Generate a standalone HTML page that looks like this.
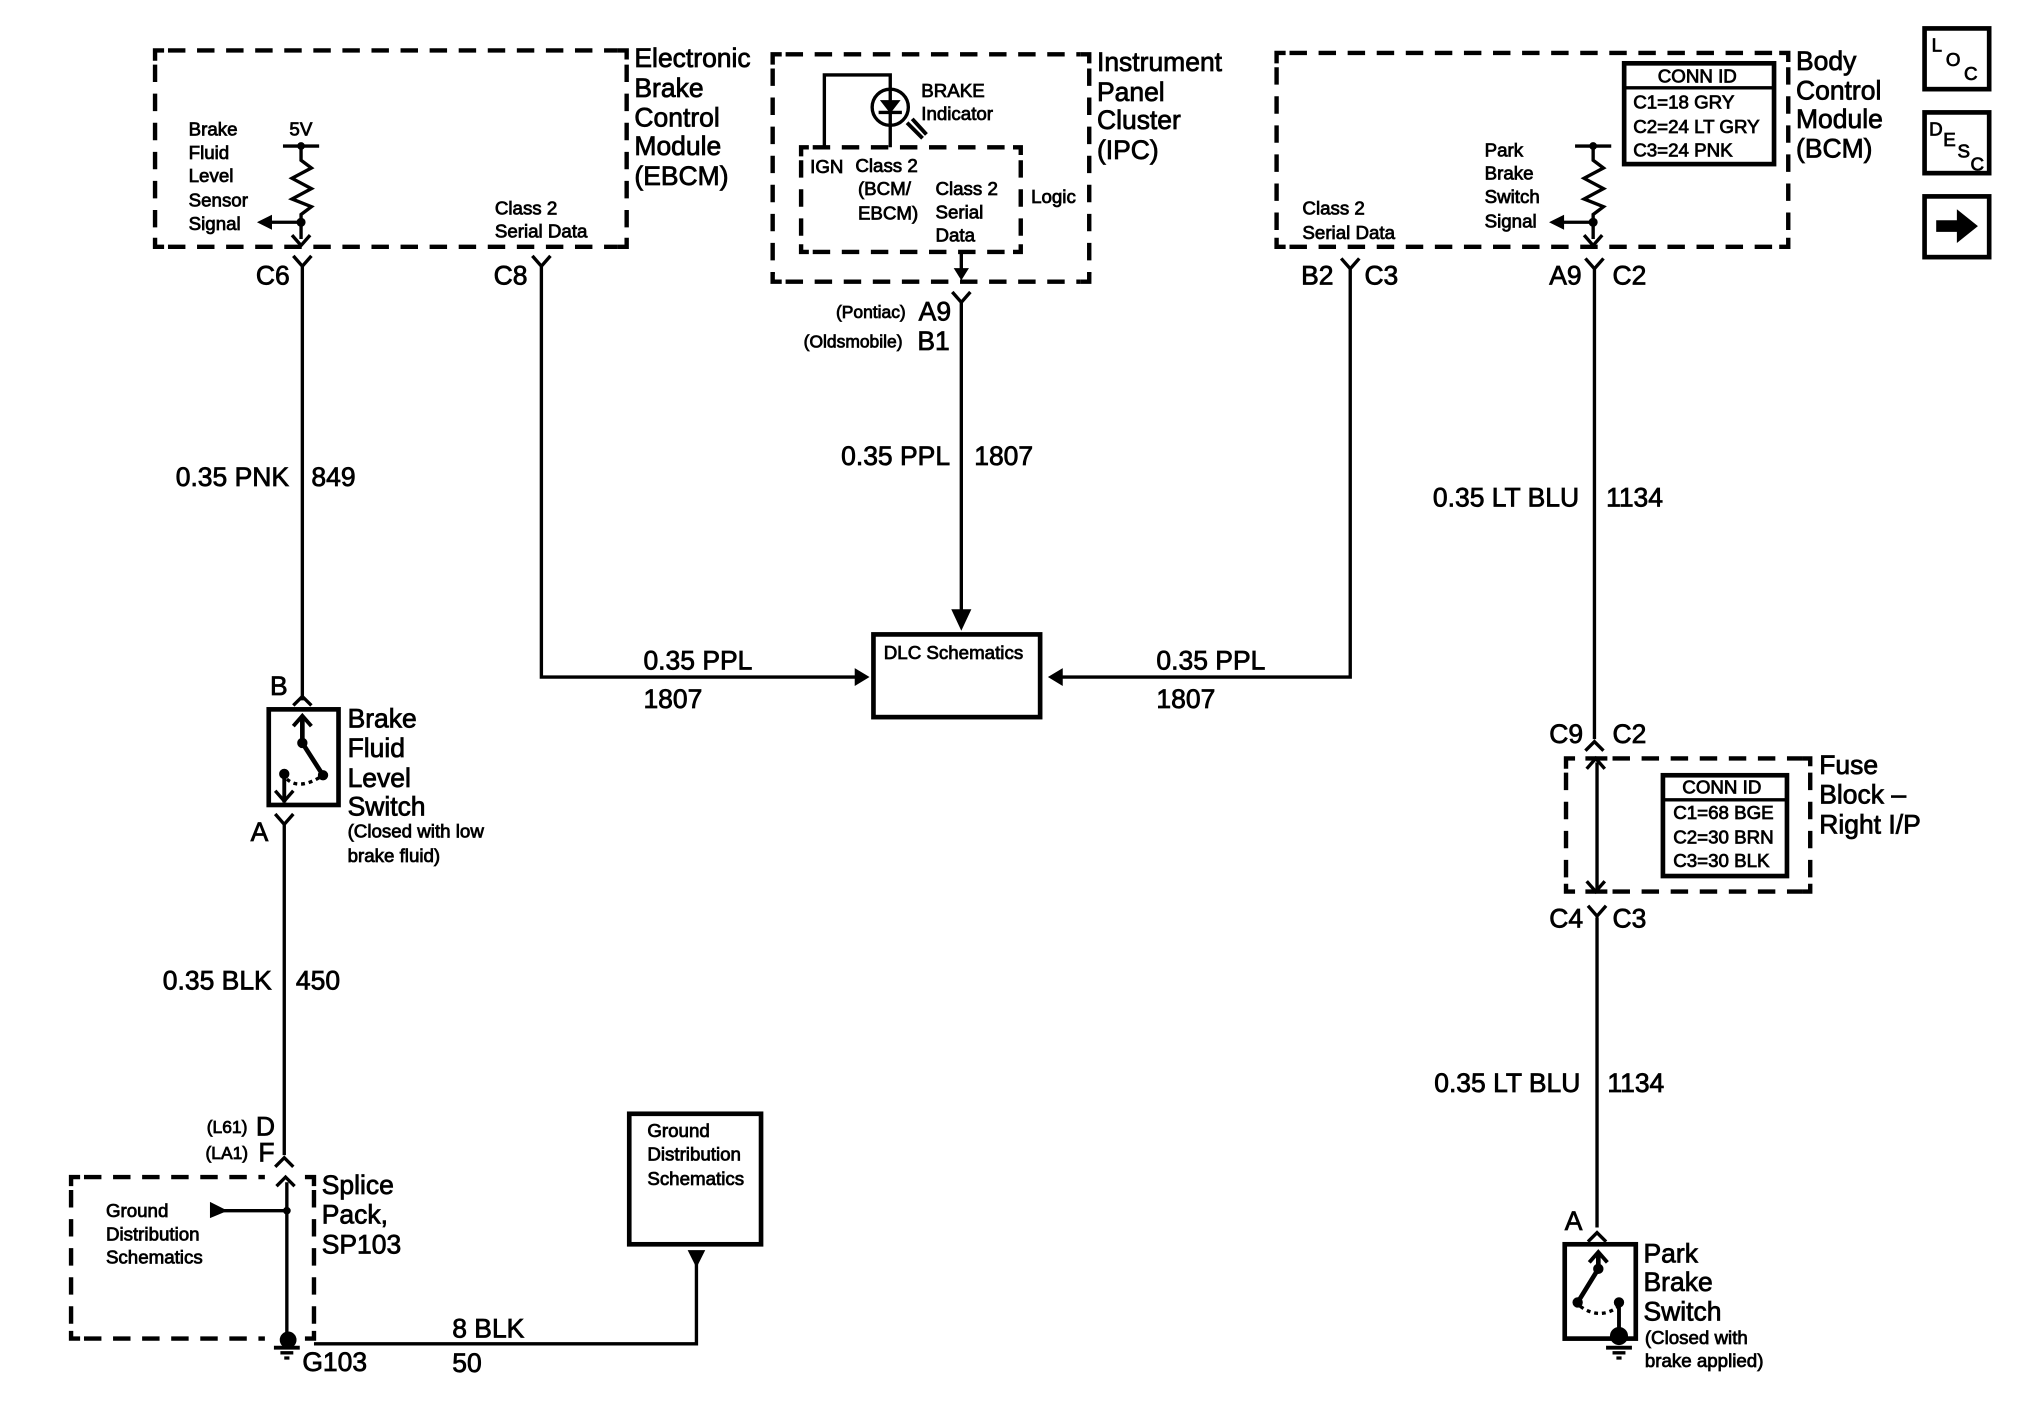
<!DOCTYPE html>
<html><head><meta charset="utf-8"><style>
html,body{margin:0;padding:0;background:#fff}
svg{display:block}
text{font-family:"Liberation Sans",sans-serif;fill:#000;stroke:#000;stroke-width:.6}
.b{font-size:20.5px}.s{font-size:14.5px}.x{font-size:13.5px}
.w{fill:none;stroke:#000;stroke-width:2.6}
.t{fill:none;stroke:#000;stroke-width:3.6}
.d{fill:none;stroke:#000;stroke-width:3.4;stroke-dasharray:13.5 9}
.c{fill:none;stroke:#000;stroke-width:3.4}
.f{fill:#000;stroke:#000;stroke-width:1}
</style></head><body>
<svg width="2026" height="1408" viewBox="0 0 1568 1089.7" xmlns="http://www.w3.org/2000/svg">
<rect width="1568" height="1090" fill="#fff"/>

<!-- dashed boxes -->
<path class="d" d="M130 39H478M130 191H478M120 50V184M485 50V184"/>
<path class="c" d="M120 47V39H127M478 39H485V46M120 184V191H127M478 191H485V184"/>
<path class="d" d="M608 42H836M608 218H836M598 53V212M843 53V212"/>
<path class="c" d="M598 50V42H605M836 42H843V49M598 211V218H605M836 218H843V211"/>
<path class="d" d="M629 114H784M629 195H784M620 124V188M790 124V188"/>
<path class="c" d="M620 121V114H626M784 114H790V120M620 189V195H626M784 195H790V189"/>
<path class="d" d="M998 41H1377M998 191H1377M988 52V184M1384 52V184"/>
<path class="c" d="M988 49V41H995M1377 41H1384V48M988 184V191H995M1377 191H1384V184"/>
<path class="d" d="M1248 587H1395M1248 690H1395M1212 598V684M1401 598V684"/>
<path class="c" d="M1212 595V587H1219M1395 587H1401V593M1212 684V690H1219M1395 690H1401V684M1227 587H1244M1227 690H1244"/>
<path class="d" d="M65 911H205M65 1036H205M55 921V1030M243 921V1030"/>
<path class="c" d="M55 918V911H62M236 911H243V918M55 1030V1036H62M236 1036H243V1030"/>

<!-- solid boxes -->
<g>
<rect class="t" x="1257" y="49" width="116" height="78"/><path class="w" d="M1257 68H1373"/>
<rect class="t" x="1287" y="600" width="96" height="78"/><path class="w" d="M1287 619H1383"/>
<rect class="t" x="1489.500" y="22" width="50" height="47"/>
<rect class="t" x="1489.500" y="87" width="50" height="47"/>
<rect class="t" x="1489.500" y="152" width="50" height="47"/>
<rect class="t" x="676" y="491" width="129" height="64"/>
<rect class="t" x="487" y="862" width="102" height="101"/>
<rect class="t" x="208" y="549" width="54" height="74"/>
<rect class="t" x="1211" y="963" width="55" height="73"/>
</g>
<path class="f" d="M1499 171H1515V163L1530 175L1515 187V179H1499Z"/>

<!-- wires -->
<g class="w">
<path d="M234 204V542M227 198L234 206L241 198"/>
<path d="M419 204V524H662M412 198L419 206L426 198"/>
<path d="M744 195V212M744 232V472M737 226L744 234L751 226"/>
<path d="M1045 206V524H822M1038 200L1045 208L1052 200"/>
<path d="M1234 206V572M1227 200L1234 208L1241 200M1227 581L1234 574L1241 581"/>
<path d="M1236 590V690M1236 710V950M1229 701L1236 709L1243 701"/>
<path d="M220 636V894M213 630L220 638L227 630M213 903L220 896L227 903"/>
<path d="M222 915V1036M172 937H222"/>
<path d="M243 1040H539V978"/>
<path d="M227 546L234 539L241 546M1229 961L1236 954L1243 961"/>
<!-- EBCM resistor -->
<path d="M219 113H247M233 113V124L241 130L226 138L241 146L226 154L241 160L233 166V185M206 172H233"/>
<path d="M226 182L233 190L240 182"/>
<!-- BCM resistor -->
<path d="M1219 113H1247M1233 113V124L1241 130L1226 138L1241 146L1226 154L1241 160L1233 166V185M1208 172H1233"/>
<path d="M1226 182L1233 190L1240 182"/>
<!-- lamp -->
<path d="M638 114V58H689V114"/>
<circle cx="689" cy="83" r="14"/>
<path d="M680 87H698"/>
<path stroke-width="3" d="M702 95L714 107M706 92L717 104"/>
<!-- inner arrows -->
<path d="M1228 595L1235 587L1242 595M1228 682L1235 690L1242 682"/>
<path d="M214 918L221 911L228 918"/>
<!-- switch 1 -->
<path stroke-width="3.600" d="M234 555V575L250 600"/>
<path stroke-width="3" d="M227 562L234 554L241 562"/>
<path stroke-width="3" d="M220 599V621"/>
<path d="M213 612L220 620L227 612"/>
<path stroke-dasharray="3 3" d="M222 603Q232 612 250 600"/>
<!-- switch 2 -->
<path stroke-width="3.600" d="M1237 971V982L1221 1008"/>
<path stroke-width="3" d="M1230 977L1237 969L1244 977"/>
<path stroke-width="3" d="M1253 1008V1035"/>
<path stroke-dasharray="3 3" d="M1223 1011Q1238 1022 1253 1011"/>
<!-- grounds -->
<path stroke-width="3" d="M1243 1043H1263"/><path d="M1248 1047H1258M1251 1051H1255"/>
<path stroke-width="3" d="M212 1043H232"/><path d="M217 1047H227M220 1051H224"/>
</g>
<g class="f">
<path d="M737 472H751L744 487Z"/>
<path d="M739 208H749L744 216Z"/>
<path d="M662 518V530L672 524Z"/>
<path d="M822 518V530L812 524Z"/>
<path d="M533 968H545L539 980Z"/>
<path d="M163 931V942L175 937Z"/>
<path d="M200 172L210 167V177Z"/>
<path d="M1200 172L1210 167V177Z"/>
<path d="M682 78H696L689 87Z"/>
<circle cx="233" cy="113" r="2.500"/><circle cx="233" cy="172" r="3"/>
<circle cx="1233" cy="113" r="2.500"/><circle cx="1233" cy="172" r="3"/>
<circle cx="222" cy="937" r="2.500"/><circle cx="223" cy="1037" r="6"/>
<circle cx="234" cy="575" r="3.500"/><circle cx="250" cy="600" r="3.500"/><circle cx="220" cy="599" r="3.500"/>
<circle cx="1237" cy="982" r="3.500"/><circle cx="1221" cy="1008" r="3.500"/><circle cx="1253" cy="1008" r="3.500"/><circle cx="1253" cy="1034" r="6.500"/>
</g>

<!-- large labels -->
<g class="b">
<text x="491" y="52">Electronic</text><text x="491" y="75">Brake</text><text x="491" y="98">Control</text><text x="491" y="120">Module</text><text x="491" y="143">(EBCM)</text>
<text x="849" y="55">Instrument</text><text x="849" y="78">Panel</text><text x="849" y="100">Cluster</text><text x="849" y="123">(IPC)</text>
<text x="1390" y="54">Body</text><text x="1390" y="77">Control</text><text x="1390" y="99">Module</text><text x="1390" y="122">(BCM)</text>
<text x="198" y="220">C6</text><text x="382" y="220">C8</text>
<text x="711" y="248">A9</text><text x="710" y="271">B1</text>
<text x="1007" y="220">B2</text><text x="1056" y="220">C3</text>
<text x="1199" y="220">A9</text><text x="1248" y="220">C2</text>
<text x="136" y="376">0.35 PNK</text><text x="241" y="376">849</text>
<text x="651" y="360">0.35 PPL</text><text x="754" y="360">1807</text>
<text x="1109" y="392">0.35 LT BLU</text><text x="1243" y="392">1134</text>
<text x="498" y="518">0.35 PPL</text><text x="498" y="548">1807</text>
<text x="895" y="518">0.35 PPL</text><text x="895" y="548">1807</text>
<text x="209" y="538">B</text>
<text x="269" y="563">Brake</text><text x="269" y="586">Fluid</text><text x="269" y="609">Level</text><text x="269" y="631">Switch</text>
<text x="194" y="651">A</text>
<text x="126" y="766">0.35 BLK</text><text x="229" y="766">450</text>
<text x="198" y="879">D</text><text x="200" y="899">F</text>
<text x="249" y="924">Splice</text><text x="249" y="947">Pack,</text><text x="249" y="970">SP103</text>
<text x="350" y="1035">8 BLK</text><text x="350" y="1062">50</text><text x="234" y="1061">G103</text>
<text x="1199" y="575">C9</text><text x="1248" y="575">C2</text>
<text x="1408" y="599">Fuse</text><text x="1408" y="622">Block –</text><text x="1408" y="645">Right I/P</text>
<text x="1199" y="718">C4</text><text x="1248" y="718">C3</text>
<text x="1110" y="845">0.35 LT BLU</text><text x="1244" y="845">1134</text>
<text x="1211" y="952">A</text>
<text x="1272" y="977">Park</text><text x="1272" y="999">Brake</text><text x="1272" y="1022">Switch</text>
</g>

<!-- small labels -->
<g class="s">
<text x="146" y="105">Brake</text><text x="146" y="123">Fluid</text><text x="146" y="141">Level</text><text x="146" y="160">Sensor</text><text x="146" y="178">Signal</text>
<text x="224" y="105">5V</text>
<text x="383" y="166">Class 2</text><text x="383" y="184">Serial Data</text>
<text x="713" y="75">BRAKE</text><text x="713" y="93">Indicator</text>
<text x="627" y="134">IGN</text><text x="662" y="133">Class 2</text>
<text x="664" y="151">(BCM/</text><text x="664" y="170">EBCM)</text>
<text x="724" y="151">Class 2</text><text x="724" y="169">Serial</text><text x="724" y="187">Data</text>
<text x="798" y="157">Logic</text>
<text x="1008" y="166">Class 2</text><text x="1008" y="185">Serial Data</text>
<text x="1149" y="121">Park</text><text x="1149" y="139">Brake</text><text x="1149" y="157">Switch</text><text x="1149" y="176">Signal</text>
<text x="1283" y="64">CONN ID</text>
<text x="1264" y="84">C1=18 GRY</text><text x="1264" y="103">C2=24 LT GRY</text><text x="1264" y="121">C3=24 PNK</text>
<text x="1302" y="614">CONN ID</text>
<text x="1295" y="634">C1=68 BGE</text><text x="1295" y="653">C2=30 BRN</text><text x="1295" y="671">C3=30 BLK</text>
<text x="684" y="510">DLC Schematics</text>
<text x="269" y="648">(Closed with low</text><text x="269" y="667">brake fluid)</text>
<text x="82" y="942">Ground</text><text x="82" y="960">Distribution</text><text x="82" y="978">Schematics</text>
<text x="501" y="880">Ground</text><text x="501" y="898">Distribution</text><text x="501" y="917">Schematics</text>
<text x="1273" y="1040">(Closed with</text><text x="1273" y="1058">brake applied)</text>
<text x="1495" y="40">L</text><text x="1506" y="51">O</text><text x="1520" y="62">C</text>
<text x="1493" y="105">D</text><text x="1504" y="113">E</text><text x="1515" y="122">S</text><text x="1525" y="132">C</text>
</g>
<g class="x">
<text x="647" y="246">(Pontiac)</text><text x="622" y="269">(Oldsmobile)</text>
<text x="160" y="877">(L61)</text><text x="159" y="897">(LA1)</text>
</g>
</svg>
</body></html>
